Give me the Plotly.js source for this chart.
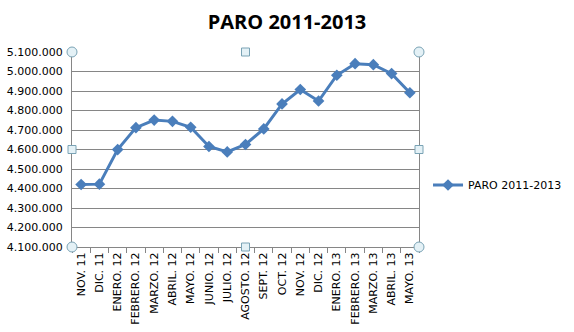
<!DOCTYPE html>
<html><head><meta charset="utf-8">
<script src="https://cdn.plot.ly/plotly-3.0.1.min.js"></script>
<style>html,body{margin:0;padding:0;background:#fff}#c{width:574px;height:332px}</style>
</head><body><div id="c"></div>
<script>
const categories = ["NOV. 11","DIC. 11","ENERO. 12","FEBRERO. 12","MARZO. 12","ABRIL. 12","MAYO. 12","JUNIO. 12","JULIO. 12","AGOSTO. 12","SEPT. 12","OCT. 12","NOV. 12","DIC. 12","ENERO. 13","FEBRERO. 13","MARZO. 13","ABRIL. 13","MAYO. 13"];
const paro = [4420462,4422359,4599829,4712098,4750867,4744235,4714122,4615269,4587455,4625634,4705279,4833521,4907817,4848723,4980778,5040222,5035243,4989193,4890928];
const tickVals = [4100000,4200000,4300000,4400000,4500000,4600000,4700000,4800000,4900000,5000000,5100000];
const tickText = tickVals.map(v => v.toString().replace(/\B(?=(\d{3})+(?!\d))/g, "."));

const handles = [];
function circ(x,y){handles.push({type:'circle',xref:'paper',yref:'paper',xsizemode:'pixel',ysizemode:'pixel',xanchor:x,yanchor:y,x0:-5,x1:5,y0:-5,y1:5,fillcolor:'#e4f1f6',line:{color:'#7aa3b5',width:1},layer:'above'});}
function sq(x,y){handles.push({type:'rect',xref:'paper',yref:'paper',xsizemode:'pixel',ysizemode:'pixel',xanchor:x,yanchor:y,x0:-4,x1:4,y0:-4,y1:4,fillcolor:'#e4f1f6',line:{color:'#7aa3b5',width:1},layer:'above'});}
circ(0,0);circ(0,1);circ(1,0);circ(1,1);sq(0.5,0);sq(0.5,1);sq(0,0.5);sq(1,0.5);

Plotly.newPlot('c',[{
  x: categories, y: paro, type:'scatter', mode:'lines+markers', name:'PARO 2011-2013',
  line:{color:'#4a7ebb',width:3}, marker:{symbol:'diamond',size:9,color:'#4a7ebb'}
}],{
  width:574,height:332,
  margin:{l:72,r:155,t:52,b:85,autoexpand:false},
  paper_bgcolor:'#fff',plot_bgcolor:'#fff',
  font:{family:'DejaVu Sans',size:11,color:'#000'},
  title:{text:'<b>PARO 2011-2013</b>',font:{family:'Open Sans',size:20,color:'#000'},x:0.5,xref:'container',xanchor:'center',y:0.935,yanchor:'middle'},
  showlegend:true,
  legend:{x:1.026,xanchor:'left',y:0.318,yanchor:'middle',font:{family:'DejaVu Sans',size:11,color:'#000'},bgcolor:'rgba(0,0,0,0)'},
  xaxis:{type:'category',range:[-0.5,18.5],autorange:false,tickangle:-90,showgrid:false,showline:true,linecolor:'#868686',linewidth:1,
    ticks:'outside',tickson:'boundaries',ticklen:5,tickcolor:'#868686',tickfont:{family:'DejaVu Sans',size:11},zeroline:false,automargin:false},
  yaxis:{range:[4100000,5100000],autorange:false,tickvals:tickVals,ticktext:tickText,showgrid:true,gridcolor:'#868686',gridwidth:1,
    showline:true,mirror:true,linecolor:'#868686',linewidth:1,ticks:'',ticklabelstandoff:6,zeroline:false,automargin:false,tickfont:{family:'DejaVu Sans',size:11}},
  shapes:handles
},{displayModeBar:false,staticPlot:true});
</script></body></html>
